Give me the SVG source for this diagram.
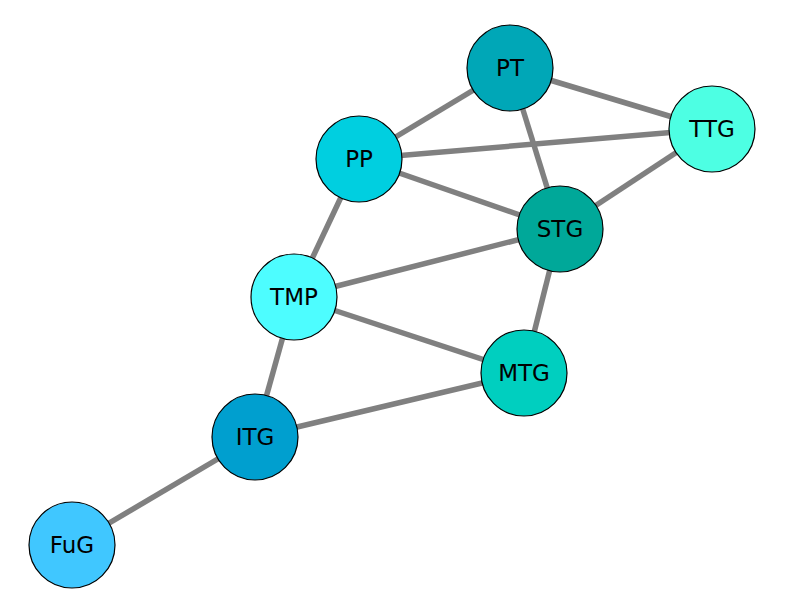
<svg xmlns="http://www.w3.org/2000/svg" width="800" height="600" viewBox="0 0 800 600">
  <style>
    .edge { stroke: #808080; stroke-width: 5.5; fill: none; }
    .node circle { stroke: #000; stroke-width: 1.2; }
    .node text { font-family: "DejaVu Sans", sans-serif; font-size: 23px; fill: #000; text-anchor: middle; dominant-baseline: central; }
  </style>
  <rect width="800" height="600" fill="#fff"/>
  <g id="edges">
    <line class="edge" x1="510" y1="68" x2="359" y2="159"/>
    <line class="edge" x1="510" y1="68" x2="712" y2="129"/>
    <line class="edge" x1="510" y1="68" x2="560" y2="229"/>
    <line class="edge" x1="359" y1="159" x2="712" y2="129"/>
    <line class="edge" x1="359" y1="159" x2="560" y2="229"/>
    <line class="edge" x1="712" y1="129" x2="560" y2="229"/>
    <line class="edge" x1="359" y1="159" x2="294" y2="297"/>
    <line class="edge" x1="294" y1="297" x2="560" y2="229"/>
    <line class="edge" x1="560" y1="229" x2="524" y2="373"/>
    <line class="edge" x1="294" y1="297" x2="524" y2="373"/>
    <line class="edge" x1="294" y1="297" x2="255" y2="437"/>
    <line class="edge" x1="255" y1="437" x2="524" y2="373"/>
    <line class="edge" x1="255" y1="437" x2="72" y2="545"/>
  </g>
  <g id="PT" class="node"><circle cx="510" cy="68" r="43" fill="#00a7b7"/><text x="510" y="68">PT</text></g>
  <g id="TTG" class="node"><circle cx="712" cy="129" r="43" fill="#4dffe3"/><text x="712" y="129">TTG</text></g>
  <g id="PP" class="node"><circle cx="359" cy="159" r="43" fill="#00cfe0"/><text x="359" y="159">PP</text></g>
  <g id="STG" class="node"><circle cx="560" cy="229" r="43" fill="#00a899"/><text x="560" y="229">STG</text></g>
  <g id="TMP" class="node"><circle cx="294" cy="297" r="43" fill="#4dfdff"/><text x="294" y="297">TMP</text></g>
  <g id="MTG" class="node"><circle cx="524" cy="373" r="43" fill="#00cfbf"/><text x="524" y="373">MTG</text></g>
  <g id="ITG" class="node"><circle cx="255" cy="437" r="43" fill="#009fcf"/><text x="255" y="437">ITG</text></g>
  <g id="FuG" class="node"><circle cx="72" cy="545" r="43" fill="#40c7ff"/><text x="72" y="545">FuG</text></g>
</svg>
